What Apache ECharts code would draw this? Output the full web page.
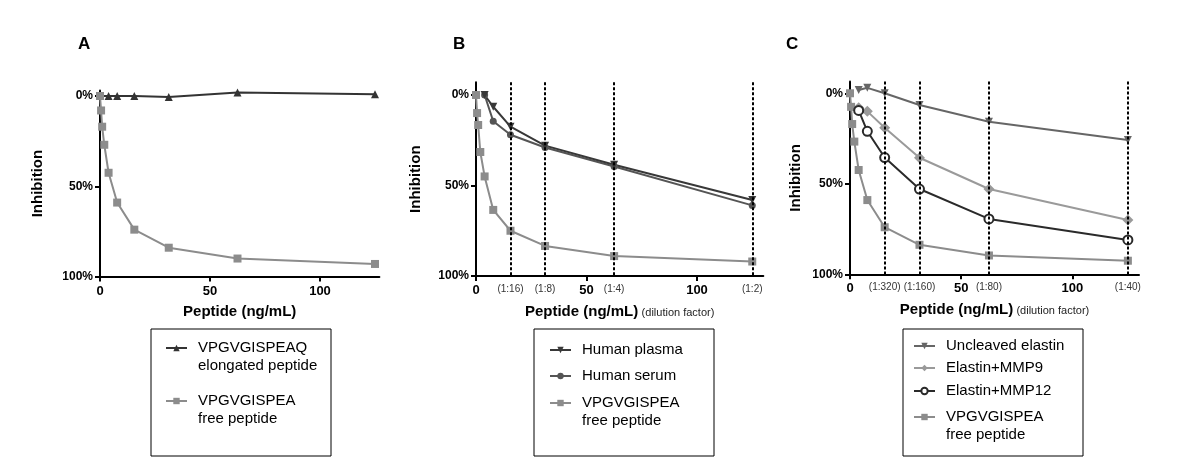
<!DOCTYPE html>
<html>
<head>
<meta charset="utf-8">
<script src="https://cdn.jsdelivr.net/npm/echarts@6/dist/echarts.min.js"></script>
<style>
  html, body { margin: 0; padding: 0; background: #fff; }
  #chart { width: 1200px; height: 474px; }
</style>
</head>
<body>
<div id="chart"></div>
<script>
var FONT = '"Liberation Sans", Arial, sans-serif'

// peptide concentrations (ng/mL), two-fold dilutions
var freeX = [0, 0.49, 0.98, 1.95, 3.9, 7.8, 15.6, 31.25, 62.5, 125]
var elongX = [0, 3.9, 7.8, 15.6, 31.25, 62.5, 125]
var sampleX = [3.9, 7.8, 15.6, 31.25, 62.5, 125]

// panel A - inhibition (%)
var aElongated = [0, 0, 0, 0, 0.5, -2, -1]
var aFree = [0, 8, 17, 27, 42.5, 59, 74, 84, 90, 93]

// panel B
var bPlasma = [0, 6.5, 17.5, 28, 38.5, 58]
var bSerum = [0, 14.5, 22, 29, 39.5, 61]
var bFree = [0, 10, 16.6, 31.5, 45, 63.5, 75, 83.4, 89, 92]

// panel C
var cUncleaved = [-1.8, -3, 0, 6.5, 15.7, 25.8]
var cMmp9 = [8, 10, 19, 35.6, 52.9, 70]
var cMmp12 = [9.5, 21, 35.5, 52.9, 69.4, 81]
var cFree = [0, 7.5, 17, 26.7, 42.4, 59, 74, 83.7, 89.6, 92.5]

// dilution markers
var dilutionX = [15.6, 31.25, 62.5, 125]
var bDilution = ['(1:16)', '(1:8)', '(1:4)', '(1:2)']
var cDilution = ['(1:320)', '(1:160)', '(1:80)', '(1:40)']

var xTicks = [0, 50, 100]
var yTicks = [0, 50, 100]

function zip(xs, ys) {
  return ys.map(function(y, i) { return [xs[i], y] })
}

function makeX(i, max, labels) {
  var vals = xTicks.slice()
  if (labels) vals = vals.concat(dilutionX)
  vals.sort(function(a, b) { return a - b })
  return {
    type: 'value',
    gridIndex: i,
    min: 0,
    max: max,
    name: labels ? '{n|Peptide (ng/mL)} {s|(dilution factor)}' : '{n|Peptide (ng/mL)}',
    nameLocation: 'middle',
    nameGap: 28,
    nameTextStyle: {
      rich: {
        n: { fontSize: 15, fontWeight: 'bold', color: '#000', fontFamily: FONT },
        s: { fontSize: 11, color: '#222', fontFamily: FONT, padding: [3, 0, 0, 0] }
      }
    },
    splitLine: { show: false },
    axisLine: { show: true, onZero: false, lineStyle: { color: '#000', width: 2 } },
    axisTick: { show: true, customValues: xTicks, length: 5, lineStyle: { color: '#000', width: 2 } },
    axisLabel: {
      customValues: vals,
      margin: 8,
      formatter: function(v) {
        var k = dilutionX.indexOf(v)
        if (labels && k >= 0) return '{d|' + labels[k] + '}'
        return '{n|' + v + '}'
      },
      rich: {
        n: { fontSize: 13, fontWeight: 'bold', color: '#000', fontFamily: FONT },
        d: { fontSize: 10, color: '#333', fontFamily: FONT }
      }
    }
  }
}

function makeY(i, min, gap) {
  return {
    type: 'value',
    gridIndex: i,
    inverse: true,
    min: min,
    max: 100,
    name: 'Inhibition',
    nameLocation: 'middle',
    nameGap: gap,
    nameRotate: 90,
    nameTextStyle: { fontSize: 15, fontWeight: 'bold', color: '#000', fontFamily: FONT },
    splitLine: { show: false },
    axisLine: { show: true, onZero: false, lineStyle: { color: '#000', width: 2 } },
    axisTick: { show: true, customValues: yTicks, length: 5, lineStyle: { color: '#000', width: 2 } },
    axisLabel: {
      customValues: yTicks,
      margin: 7,
      formatter: '{value}%',
      fontSize: 12,
      fontWeight: 'bold',
      color: '#000',
      fontFamily: FONT
    }
  }
}

function line(name, gi, data, color, symbol, size, opts) {
  var s = {
    name: name,
    type: 'line',
    xAxisIndex: gi,
    yAxisIndex: gi,
    data: data,
    symbol: symbol,
    symbolSize: size,
    showAllSymbol: true,
    clip: false,
    lineStyle: { color: color, width: 2 },
    itemStyle: { color: color },
    emphasis: { disabled: true }
  }
  if (opts) Object.assign(s, opts)
  return s
}

function dashLines() {
  return {
    symbol: 'none',
    silent: true,
    label: { show: false },
    lineStyle: { color: '#000', type: [3, 2], width: 2 },
    data: dilutionX.map(function(v) { return { xAxis: v } })
  }
}

// two-line entries get a blank first line so the symbol sits on the first text line
function legendItem(name, text, left, top) {
  var twoLines = text.indexOf('\n') >= 0
  return {
    data: [name],
    left: left,
    top: top,
    orient: 'vertical',
    padding: 0,
    itemWidth: 21,
    itemHeight: 8,
    selectedMode: false,
    formatter: function() { return twoLines ? '\u00a0\n' + text : text },
    textStyle: {
      fontSize: 15,
      color: '#000',
      fontFamily: FONT,
      lineHeight: 18,
      padding: [0, 0, 0, 6]
    }
  }
}

function box(x) {
  return {
    type: 'rect',
    shape: { x: x, y: 329, width: 180, height: 127 },
    style: { fill: 'none', stroke: '#000', lineWidth: 1 }
  }
}

var GRAY = '#8c8c8c'
var triDown = { symbolRotate: 180 }

var option = {
  animation: false,
  textStyle: { fontFamily: FONT },
  title: [
    { text: 'A', left: 78, top: 36, padding: 0, textStyle: { fontSize: 17, fontWeight: 'bold', color: '#000' } },
    { text: 'B', left: 453, top: 36, padding: 0, textStyle: { fontSize: 17, fontWeight: 'bold', color: '#000' } },
    { text: 'C', left: 786, top: 36, padding: 0, textStyle: { fontSize: 17, fontWeight: 'bold', color: '#000' } }
  ],
  grid: [
    { left: 100, top: 90.6, width: 279.4, height: 186 },
    { left: 476, top: 82.3, width: 287.3, height: 193.7 },
    { left: 850, top: 81.5, width: 289, height: 192.8 }
  ],
  xAxis: [makeX(0, 127, null), makeX(1, 130, bDilution), makeX(2, 130, cDilution)],
  yAxis: [makeY(0, -3, 55), makeY(1, -7, 53), makeY(2, -6.5, 47)],
  legend: [
    legendItem('aElong', 'VPGVGISPEAQ\nelongated peptide', 165, 321),
    legendItem('aFree', 'VPGVGISPEA\nfree peptide', 165, 374),
    legendItem('bPlasma', 'Human plasma', 549, 341),
    legendItem('bSerum', 'Human serum', 549, 367),
    legendItem('bFree', 'VPGVGISPEA\nfree peptide', 549, 376),
    legendItem('cUncleaved', 'Uncleaved elastin', 913, 337),
    legendItem('cMmp9', 'Elastin+MMP9', 913, 359),
    legendItem('cMmp12', 'Elastin+MMP12', 913, 382),
    legendItem('cFree', 'VPGVGISPEA\nfree peptide', 913, 390)
  ],
  graphic: [box(151), box(534), box(903)],
  series: [
    line('aElong', 0, zip(elongX, aElongated), '#333', 'triangle', 8),
    line('aFree', 0, zip(freeX, aFree), GRAY, 'rect', 8),

    line('bSerum', 1, zip(sampleX, bSerum), '#555', 'circle', 7),
    line('bPlasma', 1, zip(sampleX, bPlasma), '#383838', 'triangle', 8, triDown),
    line('bFree', 1, zip(freeX, bFree), GRAY, 'rect', 8, { markLine: dashLines() }),

    line('cUncleaved', 2, zip(sampleX, cUncleaved), '#666', 'triangle', 8, triDown),
    line('cMmp9', 2, zip(sampleX, cMmp9), '#9a9a9a', 'diamond', 11),
    line('cFree', 2, zip(freeX, cFree), GRAY, 'rect', 8, { markLine: dashLines() }),
    line('cMmp12', 2, zip(sampleX, cMmp12), '#2a2a2a', 'emptyCircle', 9,
      { itemStyle: { color: '#2a2a2a', borderWidth: 2.5 } })
  ]
}

var chart = echarts.init(document.getElementById('chart'))
chart.setOption(option)
</script>
</body>
</html>
